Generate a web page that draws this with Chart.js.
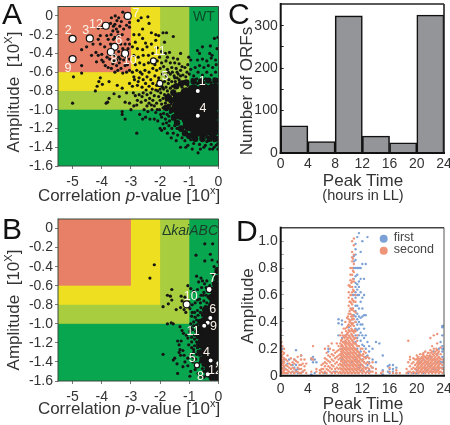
<!DOCTYPE html>
<html>
<head>
<meta charset="utf-8">
<script src="https://cdn.jsdelivr.net/npm/chart.js@4/dist/chart.umd.min.js"></script>
<style>
html, body { margin: 0; padding: 0; background: #fff; overflow: hidden; }
#page { position: relative; width: 450px; height: 425px; overflow: hidden; font-family: "Liberation Sans", Arial, sans-serif; color: #333; }
canvas { position: absolute; }
.txt { position: absolute; white-space: nowrap; line-height: 1; }
.letter { font-size: 30px; color: #111; }
.title { font-size: 17px; transform: translate(-50%, -50%); }
.sub { font-size: 14.5px; transform: translate(-50%, -50%); }
.rot { transform: translate(-50%, -50%) rotate(-90deg); }
sup { font-size: 11px; line-height: 0; }
</style>
</head>
<body>
<div id="page">
  <canvas id="graficoA" width="225" height="190" style="left:0;top:0"></canvas>
  <canvas id="graficoB" width="225" height="195" style="left:0;top:210px"></canvas>
  <canvas id="graficoC" width="240" height="175" style="left:225px;top:0"></canvas>
  <canvas id="graficoD" width="240" height="185" style="left:225px;top:215px"></canvas>

  <div class="txt letter" style="left:2px;top:-1px">A</div>
  <div class="txt letter" style="left:2px;top:214px">B</div>
  <div class="txt letter" style="left:228px;top:-1px">C</div>
  <div class="txt letter" style="left:236px;top:216px">D</div>

  <div class="txt title rot" style="left:13px;top:92px">Amplitude&nbsp; [10<sup>X</sup>]</div>
  <div class="txt title" style="left:129px;top:195px">Correlation <i>p</i>-value [10<sup>x</sup>]</div>
  <div class="txt title rot" style="left:13px;top:310px">Amplitude&nbsp; [10<sup>X</sup>]</div>
  <div class="txt title" style="left:129px;top:408px">Correlation <i>p</i>-value [10<sup>x</sup>]</div>
  <div class="txt" style="left:193px;top:9px;font-size:14px;color:#0c4a2a">WT</div>
  <div class="txt" style="right:232px;top:223px;font-size:14px;color:#1d3d2a">&Delta;<i>kaiABC</i></div>

  <div class="txt title rot" style="left:246px;top:91px">Number of ORFs</div>
  <div class="txt title" style="left:363px;top:180px">Peak Time</div>
  <div class="txt sub" style="left:363px;top:195px">(hours in LL)</div>

  <div class="txt title rot" style="left:247px;top:306px">Amplitude</div>
  <div class="txt title" style="left:363px;top:403px">Peak Time</div>
  <div class="txt sub" style="left:363px;top:417px">(hours in LL)</div>
</div>

<script>
// panel A / B shared ticks
var pValueTicks = [-5, -4, -3, -2, -1, 0];
var amplitudeTicks = [0, -0.2, -0.4, -0.6, -0.8, -1, -1.2, -1.4, -1.6];

// coloured zones, outer to inner
var zoneEndX = [-1, -2, -3];
var zoneStartY = [-1, -0.8, -0.6];
var zoneColors = ["#a8cd3e", "#eee021", "#e88067"];

// panel A, single genes
var pontosA = [
[-3.54,0.0],[-3.28,0.04],[-3.67,-0.02],[-3.2,-0.01],[-3.05,-0.07],[-3.55,-0.09],[-3.7,-0.08],[-3.38,-0.11],[-3.5,-0.14],[-3.62,-0.16],
[-3.05,-0.12],[-3.99,-0.12],[-4.12,-0.13],[-3.44,-0.21],[-3.55,-0.23],[-3.6,-0.25],[-3.83,-0.21],[-3.78,-0.25],[-4.05,-0.21],[-4.12,-0.25],
[-4.3,-0.3],[-4.52,-0.33],[-4.69,-0.36],[-4.2,-0.39],[-4.12,-0.42],[-4.0,-0.41],[-4.35,-0.42],[-4.18,-0.49],[-4.0,-0.47],[-3.73,-0.46],
[-3.49,-0.47],[-3.37,-0.46],[-3.2,-0.53],[-3.05,-0.46],[-3.49,-0.53],[-3.62,-0.51],[-3.95,-0.49],[-3.67,-0.56],[-3.34,-0.56],[-3.45,-0.58],
[-3.05,-0.58],[-4.69,-0.53],[-4.69,-0.61],[-4.97,-0.65],[-5,-0.93],[-3.42,-0.02],[-3.15,-0.1],[-3.3,-0.2],[-3.1,-0.25],[-3.2,-0.3],
[-3.35,-0.3],[-3.42,-0.38],[-3.55,-0.42],[-3.1,-0.35],[-3.25,-0.47],[-3.4,-0.5],[-3.12,-0.52],[-3.75,-0.37],[-3.9,-0.33],[-4.05,-0.3],
[-3.78,-0.55],[-3.15,-0.6],[-3.28,-0.61],[-3.48,-0.05],[-3.6,-0.11],[-3.33,-0.06],[-3.45,-0.17],[-3.25,-0.14],[-3.68,-0.2],[-3.7,-0.3],
[-3.58,-0.48],[-3.3,-0.42],[-3.18,-0.44],[-3.42,-0.44],[-3.28,-0.35],[-3.05,-0.3],[-3.62,-0.37],[-3.82,-0.44],[-3.88,-0.53],[-3.55,-0.6],
[-4.05,-0.66],[-4.1,-0.7],[-4.16,-0.75],[-4.22,-0.8],[-3.98,-0.73],[-3.75,-0.7],[-3.47,-0.74],[-3.3,-0.77],[-3.75,-0.88],[-3.8,-0.92],
[-3.85,-0.93],[-3.3,-1.02],[-3.05,-0.93],[-3.15,-0.82],[-3.05,-0.72],[-2.9,-0.65],[-2.95,-0.75],[-2.85,-0.85],[-2.9,-0.96],[-3.2,-0.92],
[-3.4,-0.86],[-3.58,-0.83],[-3.0,-1.0],[-2.8,-0.95],[-2.7,-1.05],[-2.55,-1.0],[-2.6,-1.1],[-2.8,-1.25],[-3.2,-1.1],[-3.3,-1.05],
[-2.65,-0.02],[-2.42,-0.01],[-2.38,-0.08],[-2.75,-0.05],[-2.9,-0.2],[-2.72,-0.2],[-2.6,-0.24],[-2.85,-0.28],[-2.5,-0.29],[-2.95,-0.33],
[-2.78,-0.35],[-2.6,-0.36],[-2.45,-0.33],[-2.3,-0.3],[-2.15,-0.26],[-2.05,-0.21],[-1.9,-0.18],[-2.9,-0.42],[-2.75,-0.44],[-2.58,-0.42],
[-2.4,-0.42],[-2.25,-0.4],[-2.1,-0.34],[-1.95,-0.38],[-1.82,-0.4],[-1.68,-0.39],[-2.85,-0.52],[-2.7,-0.5],[-2.55,-0.52],[-2.4,-0.5],
[-2.1,-0.48],[-1.95,-0.5],[-1.8,-0.48],[-1.65,-0.5],[-1.5,-0.5],[-1.35,-0.51],[-2.95,-0.6],[-2.8,-0.58],[-2.68,-0.6],[-2.52,-0.58],
[-2.38,-0.6],[-2.25,-0.56],[-2.12,-0.58],[-2.0,-0.56],[-1.88,-0.54],[-1.75,-0.57],[-1.6,-0.55],[-1.45,-0.56],[-1.3,-0.58],[-1.15,-0.55],
[-2.88,-0.68],[-2.72,-0.66],[-2.58,-0.68],[-2.45,-0.65],[-2.32,-0.68],[-2.18,-0.64],[-2.05,-0.66],[-1.92,-0.62],[-1.78,-0.64],[-1.65,-0.62],
[-1.52,-0.64],[-1.38,-0.62],[-1.22,-0.63],[-1.08,-0.6],[-0.95,-0.57],[-2.78,-0.74],[-2.62,-0.76],[-2.5,-0.72],[-2.38,-0.75],[-2.25,-0.72],
[-2.12,-0.74],[-1.95,-0.72],[-1.85,-0.7],[-1.72,-0.72],[-1.6,-0.7],[-1.48,-0.7],[-1.35,-0.68],[-1.2,-0.7],[-2.92,-0.82],[-2.72,-0.84],
[-2.58,-0.82],[-2.45,-0.84],[-2.32,-0.82],[-2.2,-0.85],[-2.08,-0.8],[-1.98,-0.82],[-1.88,-0.78],[-1.75,-0.8],[-1.65,-0.77],[-1.55,-0.8],
[-1.45,-0.76],[-2.65,-0.92],[-2.5,-0.9],[-2.38,-0.93],[-2.25,-0.9],[-2.12,-0.93],[-2.0,-0.9],[-1.9,-0.88],[-1.78,-0.9],[-1.65,-0.86],
[-1.55,-0.9],[-2.42,-1.02],[-2.28,-1.0],[-2.15,-1.03],[-2.02,-1.0],[-1.9,-0.98],[-1.78,-1.0],[-1.68,-0.96],[-1.58,-1.0],[-2.2,-1.1],
[-2.08,-1.12],[-1.95,-1.08],[-1.82,-1.1],[-1.7,-1.07],[-1.58,-1.1],[-1.85,-1.2],[-1.7,-1.17],[-1.6,-1.2],[-1.5,-1.17],[-2.0,-1.2],
[-1.72,-0.84],[-1.82,-0.93],[-1.62,-0.94],[-1.5,-0.85],[-1.45,-0.95],[-1.42,-1.05],[-1.48,-1.12],[-1.42,-1.2],[-1.55,-1.25],[-1.4,-1.27],
[-1.25,-1.3],[-1.3,-1.4],[-1.05,-1.38],[-1.15,-1.33],[-0.95,-1.32],[-0.85,-1.36],[-0.75,-1.32],[-0.65,-1.37],[-0.55,-1.33],[-0.45,-1.38],
[-0.35,-1.33],[-0.25,-1.37],[-0.15,-1.33],[-0.08,-1.38],[-0.7,-1.46],[-0.5,-1.4],[-0.3,-1.42],[-0.15,-1.4],[-0.9,-1.28],[-1.1,-1.27],
[-1.3,-1.22],[-0.6,-1.29],[-0.4,-1.29],[-0.2,-1.29],[-0.05,-1.3],
[-1.0,-0.62],[-0.85,-0.64],[-0.7,-0.6],[-0.55,-0.63],[-0.4,-0.6],[-0.25,-0.63],[-0.1,-0.6],[-0.9,-0.68],[-0.75,-0.67],[-0.6,-0.68],
[-0.45,-0.67],[-0.3,-0.68],[-0.15,-0.67],[-0.05,-0.68],[-0.8,-0.55],[-0.65,-0.53],[-0.5,-0.55],[-0.35,-0.53],[-0.2,-0.55],[-0.08,-0.52],
[-0.72,-0.47],[-0.55,-0.46],[-0.4,-0.48],[-0.25,-0.45],[-0.1,-0.47],[-0.95,-0.47],[-0.65,-0.4],[-0.72,-0.37],[-1.02,-0.44],[-0.3,-0.4],
[-0.22,-0.42],[-0.28,-0.32],[-0.14,-0.24],[-0.02,-0.23],[-0.05,-0.35],[-0.55,-0.33],
[-1.3,-0.4],[-1.55,-0.22],[-1.78,-0.18],[-1.85,-0.28],[-2.15,-0.2],[-2.6,-0.14],[-2.3,-0.18],[-1.5,-0.66],[-2.0,-0.78],[-2.3,-0.95],
[-2.48,-0.79],[-2.36,-0.88],[-2.27,-0.78],[-2.15,-0.79],[-2.2,-0.96],[-2.05,-0.86],[-1.95,-0.94],[-1.85,-0.84],[-1.72,-0.95],[-2.1,-1.0],
[-1.98,-1.05],[-1.88,-1.04],[-1.76,-1.05],[-1.65,-1.03],[-2.05,-0.69],[-1.92,-0.76],[-1.8,-0.76],[-1.7,-0.68],[-1.58,-0.75],[-1.42,-0.66],
[-1.3,-0.64],[-1.12,-0.65],[-1.72,-0.6],[-1.58,-0.6],[-1.42,-0.6],[-1.25,-0.54],[-1.05,-0.52],[-1.55,-0.45],[-1.4,-0.46],[-1.75,-0.44],
[-2.02,-0.44],[-2.18,-0.52],[-2.62,-0.62],[-2.75,-0.7],[-2.62,-0.86],[-2.78,-0.9],[-2.45,-0.96],[-2.5,-1.08],[-2.35,-1.1],[-1.9,-1.15],
[-1.78,-1.14],[-1.68,-1.12],[-1.95,-1.22],[-1.75,-1.25],[-1.62,-1.3],[-1.45,-1.33],[-1.12,-1.4],[-0.9,-1.42],[-0.62,-1.42],[-0.4,-1.34],
[-0.2,-1.42],[-0.02,-1.36],[-0.02,-1.42],[-0.72,-0.72],[-0.5,-0.71],[-0.25,-0.71],[-0.03,-0.74],[-1.05,-0.74],[-1.25,-0.76],[-0.1,-0.72]
];

// panel A, the solid black cloud
var nucleoA = [
[-0.2,-0.79],[-0.5,-0.79],[-0.85,-0.8],[-1.1,-0.83],[-1.35,-0.88],[-0.2,-0.88],[-0.5,-0.88],[-0.8,-0.88],[-1.1,-0.92],[-1.38,-0.97],
[-0.2,-0.96],[-0.5,-0.96],[-0.8,-0.98],[-1.1,-1.0],[-1.3,-1.04],[-0.2,-1.06],[-0.5,-1.06],[-0.8,-1.08],[-1.05,-1.1],[-0.2,-1.16],
[-0.5,-1.16],[-0.8,-1.18],[-1.0,-1.16],[-0.2,-1.22],[-0.5,-1.22],[-0.75,-1.22]
];
// panel A, rim of the cloud
var bordaA = [
[-1.55,-0.82],[-1.62,-0.9],[-1.6,-1.0],[-1.52,-1.08],[-1.42,-1.14],[-1.28,-1.2],[-1.15,-1.25],[-1.0,-1.28],[-0.8,-1.31],[-0.55,-1.31],
[-0.3,-1.31],[-0.1,-1.31],[-1.45,-0.75],[-1.28,-0.72],[-1.1,-0.71],[-0.85,-0.7],[-0.6,-0.7],[-0.35,-0.69],[-0.1,-0.69],[-1.8,-0.98],
[-1.75,-0.87]
];

// panel A, numbered genes
var marcadosAX = [-5.0, -4.41, -3.86, -3.11, -3.56, -3.69, -3.2, -5.0, -2.23, -2.01, -0.71, -0.71];
var marcadosAY = [-0.245, -0.24, -0.105, 0.0, -0.33, -0.385, -0.4, -0.46, -0.48, -0.72, -0.8, -1.065];
var numerosA = ["2", "3", "12", "7", "6", "8", "10", "9", "11", "5", "1", "4"];
var numeroAX = [-5.15, -4.55, -4.2, -2.83, -3.42, -3.58, -3.04, -5.16, -2.03, -1.83, -0.56, -0.53];
var numeroAY = [-0.16, -0.16, -0.095, 0.03, -0.265, -0.465, -0.475, -0.56, -0.38, -0.645, -0.705, -0.985];
var raiosA = [3.5, 3.5, 3.5, 3.5, 3.5, 3.5, 3.5, 3.5, 3, 3, 2.6, 2.6];

// panel B, single genes
var pontosB = [
[-2.2,-0.38],[-2.35,-0.52],[-0.77,-0.28],[-0.47,-0.16],[-0.2,-0.16],[-0.28,-0.27],[-0.22,-0.33],[-0.47,-0.34],[-0.02,-0.35],[-0.05,-0.42],
[-0.02,-0.5],[-0.75,-0.5],[-0.6,-0.52],[-0.55,-0.55],[-0.68,-0.56],[-0.48,-0.58],[-0.4,-0.55],[-0.18,-0.48],[-0.1,-0.56],[-0.15,-0.62],
[-1.05,-0.6],[-0.95,-0.63],[-0.85,-0.66],[-0.72,-0.64],[-0.6,-0.7],[-0.5,-0.67],[-0.42,-0.7],[-0.25,-0.7],[-1.6,-0.64],[-1.75,-0.7],
[-1.65,-0.71],[-1.6,-0.75],[-1.72,-0.79],[-1.9,-0.82],[-1.28,-0.71],[-1.15,-0.72],[-1.25,-0.76],[-1.45,-0.85],[-1.3,-0.83],[-1.18,-0.85],
[-1.12,-0.88],[-1.05,-0.8],[-1.75,-1.0],[-1.62,-0.99],[-1.55,-1.0],[-0.98,-0.84],[-0.9,-0.8],[-0.8,-0.78],[-0.72,-0.75],[-0.62,-0.78],
[-0.5,-0.76],[-0.92,-0.92],[-0.82,-0.88],[-0.72,-0.86],[-0.62,-0.88],[-0.52,-0.85],[-0.95,-1.0],[-0.85,-0.98],[-0.75,-0.96],[-0.65,-0.97],
[-0.55,-0.95],[-0.98,-1.08],[-0.88,-1.06],[-0.78,-1.08],[-0.68,-1.05],[-0.6,-1.07],[-1.05,-1.15],[-0.92,-1.14],[-0.82,-1.16],[-0.72,-1.14],
[-0.62,-1.15],[-1.32,-1.03],[-1.25,-1.07],[-1.2,-1.1],[-1.1,-1.12],[-1.4,-1.18],[-1.35,-1.22],[-1.28,-1.18],[-1.22,-1.28],[-1.32,-1.27],
[-1.02,-1.22],[-0.92,-1.25],[-0.82,-1.23],[-0.72,-1.25],[-0.62,-1.24],[-1.35,-1.3],[-1.3,-1.33],[-1.9,-1.32],[-1.55,-1.38],[-1.5,-1.36],
[-1.42,-1.42],[-1.18,-1.33],[-1.05,-1.36],[-0.95,-1.32],[-0.85,-1.3],[-0.75,-1.32],[-0.65,-1.33],[-1.22,-1.45],[-1.4,-1.52],[-1.05,-1.44],
[-0.95,-1.5],[-0.8,-1.48],[-0.7,-1.52],[-0.62,-1.4],[-0.55,-1.47],[-1.15,-1.4],[-0.88,-1.4],[-0.72,-1.42],[-0.6,-1.55],[-0.5,-1.56],
[-0.98,-1.55],[-0.15,-0.4],[-0.08,-0.46],[-0.3,-0.6],[-0.42,-0.62],[-0.35,-0.72],[-0.58,-0.62],[-0.52,-0.7],
[-0.9,-0.88],[-0.8,-0.93],[-0.7,-0.91],[-0.85,-1.02],[-0.75,-1.01],[-0.95,-1.04],[-0.82,-1.12],[-0.72,-1.1],[-0.92,-1.19],[-0.75,-1.19],
[-0.85,-1.27],[-0.7,-1.29],[-0.6,-1.29],[-0.88,-1.35],[-0.78,-1.37],[-0.5,-1.5],[-0.45,-0.82],[-0.6,-0.83],[-0.65,-0.74],[-0.4,-0.78]
];

// panel B, the solid black strip
var nucleoB = [
[-0.05,-0.66],[-0.1,-0.74],[-0.15,-0.82],[-0.3,-0.88],[-0.12,-0.9],[-0.34,-0.97],[-0.13,-0.98],[-0.38,-1.05],[-0.13,-1.07],[-0.38,-1.13],
[-0.13,-1.17],[-0.38,-1.22],[-0.13,-1.27],[-0.38,-1.3],[-0.13,-1.37],[-0.32,-1.38],[-0.13,-1.47],[-0.26,-1.47],[-0.13,-1.55],[-0.48,-1.1],
[-0.5,-1.2],[-0.46,-1.0]
];
// panel B, rim of the strip
var bordaB = [
[-0.62,-0.98],[-0.66,-1.05],[-0.68,-1.13],[-0.66,-1.22],[-0.62,-1.3],[-0.55,-1.37],[-0.48,-1.42],[-0.42,-0.84],[-0.5,-0.9],[-0.26,-0.72],
[-0.12,-0.58],[-0.05,-0.52],[-0.03,-0.44]
];

// panel B, numbered genes
var marcadosBX = [-1.09, -0.32, -0.28, -0.37, -0.49, -0.27, -0.01, -0.74, -0.37];
var marcadosBY = [-0.795, -0.64, -0.94, -0.99, -1.02, -1.385, -1.415, -1.435, -1.53];
var numerosB = ["10", "7", "6", "9", "11", "4", "12", "5", "8"];
var numeroBX = [-0.95, -0.2, -0.2, -0.17, -0.87, -0.41, -0.12, -0.9, -0.62];
var numeroBY = [-0.71, -0.53, -0.85, -1.03, -1.08, -1.305, -1.495, -1.36, -1.55];
var raiosB = [3.5, 3, 2.6, 2.6, 2.6, 2.6, 2.6, 2.6, 2.6];

// panel C
var horasCentro = [2, 6, 10, 14, 18, 22];
var numeroORFs = [64, 27, 323, 40, 24, 325];
var horaTicks = [0, 4, 8, 12, 16, 20, 24];
var orfTicks = [0, 50, 100, 150, 200, 250, 300];

// panel D, amplitudes listed per time column
var amplitudeTicksD = [0, 0.1, 0.2, 0.3, 0.4, 0.5, 0.6, 0.7, 0.8, 0.9, 1];
var nomesSeries = ["first", "second"];
var primeiraSerie = [
[0,[.03,.08,.13,.18,.22]],[.25,[.05,.1,.2]],[.5,[.06,.12]],[1,[.02,.09]],[1.25,[.12]],[1.75,[.03,.08]],[2,[.02,.06,.12]],[2.25,[.04,.08,.19]],
[2.5,[.02,.05]],[3,[.02,.15]],[3.25,[.03]],[4.5,[.01,.12]],[4.75,[.1,.14]],[5,[.02,.12]],[5.25,[.1]],[6.5,[.02]],[7,[.18,.2]],[7.5,[.02]],
[8,[.03]],[8.5,[.3,.39,.42]],[9,[.12,.2,.28,.38,.41]],[9.5,[.1,.2,.25,.3]],[10,[.05,.16,.36]],[10.5,[.1,.3,.42,.5,.6]],
[10.75,[.33,.45,.6,.72,.8,.85,.89]],[11,[.05,.12,.25,.3,.35,.4,.44,.48,.52,.58,.62,.66,.69,.74,.8,.86,.9,.94,.98]],
[11.25,[.1,.2,.28,.34,.38,.42,.46,.52,.6,.64,.68,.75,.8,1.03]],[11.5,[.06,.15,.22,.3,.35,.4,.44,.5,.6,.66,.7,.8,1.06]],
[11.75,[.08,.18,.26,.32,.38,.43,.55,.62,.72,.8,.92]],[12,[.04,.12,.23,.3,.38,.44,.5,.58,.83,1.0]],[12.25,[.1,.22,.28,.35,.45,.6,.72]],
[12.5,[.06,.14,.2,.3,.45,.83]],[12.75,[.03,.08,.15,.25,1.03]],[13,[.04,.1,.18,.22]],[13.5,[.06,.12,.2]],[14,[.02,.1,.25]],[14.5,[.24]],
[15,[.01,.04,.15]],[15.75,[.03,.07]],[16,[.02,.05,.08]],[16.5,[.03,.05,.08]],[17,[.02,.06]],[18.75,[.02]],[19.5,[.02]],[20,[.02,.04]],
[20.5,[.03,.1]],[21,[.02,.06,.12]],[21.5,[.04,.09]],[22,[.03,.07,.14]],[22.5,[.05,.12,.18]],[23,[.04,.1,.16]],[23.25,[.06,.2]],
[23.5,[.1,.25]],[23.75,[.06,.1,.14,.18,.2,.22,.3,.36,.37]],[24,[.05,.12,.2,.37]]
];
var segundaSerie = [
[0,[.02,.05,.08,.1,.13,.16,.2,.24,.28,.34]],[.12,[.03,.06,.09,.12,.15,.18,.25]],[.25,[.02,.05,.08,.11,.14,.18,.22]],[.38,[.03,.06,.09,.12,.16]],[.5,[.02,.04,.07,.1,.13,.17,.2]],[.75,[.02,.05,.08,.12]],
[1,[.02,.04,.07,.11,.15]],[1.25,[.03,.06,.09]],[1.5,[.02,.05,.08,.13]],[1.75,[.03,.06,.1]],[2,[.02,.05,.09,.12]],[2.25,[.03,.11]],[2.5,[.03,.06,.1,.14]],[2.75,[.02,.05,.08]],[3,[.02,.05,.08,.12,.15]],
[3.25,[.03,.09]],[3.5,[.04,.07,.12]],[3.75,[.02,.09]],[4.5,[.03,.13]],[4.75,[.12,.22]],[5.25,[.03,.05]],[5.75,[.02,.04]],[6,[.03,.05,.08]],[6.25,[.02,.05,.09]],
[6.5,[.03,.07,.1,.13,.2]],[6.75,[.02,.05,.09,.12,.17]],[7,[.04,.07,.11,.15,.22]],[7.25,[.03,.06,.1,.14,.2]],[7.5,[.02,.05,.08,.12,.16,.24]],
[7.75,[.03,.07,.11,.15,.19]],[8,[.02,.05,.09,.13,.17]],[8.25,[.03,.06,.1,.14,.18,.24]],[8.5,[.02,.05,.08,.12,.15,.19,.22]],
[8.75,[.03,.06,.09,.13,.16,.2,.24,.3]],[8.88,[.02,.05,.08,.11,.15,.18,.22,.26]],[9,[.02,.05,.08,.11,.14,.17,.2,.23,.27,.32]],[9.12,[.04,.07,.1,.13,.16,.19,.22,.25,.3]],[9.25,[.03,.06,.09,.12,.15,.18,.21,.25,.29,.35]],
[9.38,[.02,.05,.08,.11,.14,.17,.2,.24,.28]],[9.5,[.02,.05,.08,.11,.14,.17,.2,.23,.26,.3,.35,.4]],[9.62,[.04,.07,.1,.13,.16,.19,.22,.25,.29,.33]],[9.75,[.03,.06,.09,.12,.15,.18,.21,.24,.27,.31,.36,.43]],
[9.88,[.02,.05,.08,.11,.14,.17,.2,.24,.28,.32,.37,.44]],[10,[.02,.05,.08,.11,.14,.17,.2,.23,.26,.3,.34,.38,.42,.46,.52,.58,.62,.67]],
[10.12,[.04,.07,.1,.13,.16,.19,.22,.25,.29,.33,.4,.48,.55,.67]],[10.25,[.03,.06,.09,.12,.15,.18,.21,.24,.28,.33,.37,.41,.46,.5,.55,.6,.66,.71,.75,.8]],
[10.38,[.02,.05,.08,.11,.14,.17,.2,.23,.27,.31,.35,.39,.44,.49,.54,.6,.69]],[10.5,[.02,.05,.08,.11,.14,.17,.2,.23,.26,.3,.34,.38,.42,.45,.49,.53,.57,.62,.66,.7,.75,.8,.85,.88,.92,1.0]],
[10.62,[.04,.07,.1,.13,.16,.19,.22,.25,.29,.33,.39,.44,.5,.56,.64,.72,.78,.87]],[10.75,[.03,.06,.09,.12,.15,.18,.21,.24,.27,.32,.37,.42,.48,.55,.63,.7,.77,.83,.9,.97,1.02]],
[10.88,[.02,.05,.08,.11,.14,.17,.2,.24,.28,.34]],[11,[.02,.05,.08,.11,.14,.17,.2,.24,.28,.33,.4,.47,.55,.6]],[11.12,[.04,.07,.1,.13,.16,.19,.23]],[11.25,[.03,.06,.09,.12,.15,.18,.22,.26,.3]],
[11.38,[.02,.05,.08,.11,.14,.18]],[11.5,[.02,.05,.08,.11,.14,.17,.22]],[11.62,[.04,.07,.1,.13,.16]],[11.75,[.03,.06,.09,.12,.15,.2]],[12,[.02,.05,.08,.11,.15,.2]],[12.12,[.04,.07,.12,.16]],[12.25,[.03,.06,.1,.14,.18]],
[12.5,[.02,.05,.09,.13,.17]],[12.75,[.03,.06,.1,.14]],[13,[.02,.05,.09,.13]],[13.25,[.03,.07]],[13.5,[.03,.06,.1]],[14,[.02,.05]],[14.75,[.02]],[15,[.03]],
[16,[.03,.06]],[16.5,[.02]],[17,[.02,.04]],[17.5,[.02]],[18.5,[.02,.05]],[18.75,[.03,.1,.26]],[19,[.03,.07,.12,.14]],[19.25,[.02,.05,.09]],
[19.5,[.03,.06,.1,.13]],[19.75,[.02,.05,.08,.12]],[20,[.03,.06,.09,.12,.15]],[20.12,[.04,.07,.1,.13]],[20.25,[.02,.05,.08,.11,.14]],[20.38,[.03,.06,.09,.12]],[20.5,[.03,.06,.09,.12,.16]],
[20.62,[.04,.07,.1,.13]],[20.75,[.02,.05,.08,.11,.14]],[20.88,[.03,.06,.09,.13,.16]],[21,[.03,.06,.09,.12,.15,.17]],[21.12,[.04,.07,.1,.14]],[21.25,[.02,.05,.08,.11,.14,.18]],[21.38,[.03,.06,.1,.13]],[21.5,[.03,.06,.09,.12,.15]],
[21.62,[.04,.07,.1,.13,.17]],[21.75,[.02,.05,.08,.11,.14,.17]],[21.88,[.03,.06,.09,.12,.15]],[22,[.03,.06,.09,.12,.15,.19,.28]],[22.12,[.04,.07,.1,.13,.17]],[22.25,[.02,.05,.08,.11,.14,.18,.22]],[22.38,[.03,.06,.09,.12,.16]],[22.5,[.03,.06,.09,.12,.15,.2,.3]],
[22.62,[.04,.07,.1,.13,.17]],[22.75,[.02,.05,.08,.11,.14,.18]],[22.88,[.03,.06,.09,.12,.16,.2]],[23,[.03,.06,.09,.12,.15,.19,.24,.31]],[23.12,[.04,.07,.1,.13,.17]],[23.25,[.02,.05,.08,.11,.14,.18]],[23.38,[.03,.06,.09,.13]],[23.5,[.03,.06,.09,.12,.16,.21]],
[23.75,[.02,.05,.08,.12]],[24,[.03,.06,.1]]
];

function paraPontos(pares) {
    return pares.map(function(p) { return { x: p[0], y: p[1] }; });
}

function colunasParaPontos(colunas) {
    var pontos = [];
    colunas.forEach(function(c) {
        c[1].forEach(function(a) { pontos.push({ x: c[0], y: a }); });
    });
    return pontos;
}

function juntarXY(xs, ys) {
    return xs.map(function(x, i) { return { x: x, y: ys[i] }; });
}

var fonteTick = { family: "'Liberation Sans', Arial, sans-serif", size: 14 };

// draws the zones behind the dots
var pluginZonas = {
    id: "zonas",
    beforeDatasetsDraw: function(chart) {
        if (!chart.options.plugins.zonas.ativo) return;
        var ctx = chart.ctx, a = chart.chartArea, sx = chart.scales.x, sy = chart.scales.y;
        ctx.save();
        ctx.fillStyle = "#09a650";
        ctx.fillRect(a.left, a.top, a.right - a.left, a.bottom - a.top);
        zoneEndX.forEach(function(fim, i) {
            ctx.fillStyle = zoneColors[i];
            ctx.fillRect(a.left, a.top, sx.getPixelForValue(fim) - a.left, sy.getPixelForValue(zoneStartY[i]) - a.top);
        });
        ctx.restore();
    }
};

// numbers next to the marked genes
var pluginNumeros = {
    id: "numeros",
    afterDatasetsDraw: function(chart) {
        var o = chart.options.plugins.numeros;
        if (!o.textos) return;
        var ctx = chart.ctx;
        ctx.save();
        ctx.font = "12.5px 'Liberation Sans', Arial, sans-serif";
        ctx.fillStyle = "#fbf3ea";
        ctx.textAlign = "center";
        ctx.textBaseline = "middle";
        o.textos.forEach(function(t, i) {
            ctx.fillText(t, chart.scales.x.getPixelForValue(o.xs[i]), chart.scales.y.getPixelForValue(o.ys[i]));
        });
        ctx.restore();
    }
};

// frame round the plot, each side can differ
var pluginMoldura = {
    id: "moldura",
    afterDraw: function(chart) {
        var o = chart.options.plugins.moldura, a = chart.chartArea, ctx = chart.ctx;
        function lado(x1, y1, x2, y2, cor, w) {
            ctx.strokeStyle = cor;
            ctx.lineWidth = w;
            ctx.beginPath();
            ctx.moveTo(x1, y1);
            ctx.lineTo(x2, y2);
            ctx.stroke();
        }
        ctx.save();
        lado(a.left, a.top, a.right, a.top, o.topo[0], o.topo[1]);
        lado(a.right, a.top, a.right, a.bottom, o.direita[0], o.direita[1]);
        lado(a.left - o.base[1] / 2, a.bottom, a.right + o.base[1] / 2, a.bottom, o.base[0], o.base[1]);
        lado(a.left, a.top - o.esquerda[1] / 2, a.left, a.bottom + o.esquerda[1] / 2, o.esquerda[0], o.esquerda[1]);
        ctx.restore();
    }
};

// legend of panel D sits inside the plot
var pluginLegendaD = {
    id: "legendaD",
    afterDatasetsDraw: function(chart) {
        if (!chart.options.plugins.legendaD.ativo) return;
        var ctx = chart.ctx, a = chart.chartArea;
        ctx.save();
        ctx.font = "12.5px 'Liberation Sans', Arial, sans-serif";
        ctx.textBaseline = "middle";
        chart.data.datasets.forEach(function(ds, i) {
            var y = a.top + 11 + i * 12;
            ctx.fillStyle = ds.backgroundColor;
            ctx.beginPath();
            ctx.arc(a.left + 103, y, 4, 0, Math.PI * 2);
            ctx.fill();
            ctx.fillStyle = "#444";
            ctx.fillText(ds.label, a.left + 113, y - 1);
        });
        ctx.restore();
    }
};

Chart.register(pluginZonas, pluginNumeros, pluginMoldura, pluginLegendaD);
Chart.defaults.animation = false;
Chart.defaults.responsive = false;
Chart.defaults.font.family = fonteTick.family;

function fixarTicks(valores) {
    return function(escala) {
        escala.ticks = valores.map(function(v) { return { value: v }; });
    };
}

// pins the axis box and drops the margin the library adds for edge labels
function fixarCaixa(largura, altura) {
    return function(e) {
        if (largura) e.width = largura;
        if (altura) e.height = altura;
        e.paddingLeft = e.paddingRight = e.paddingTop = e.paddingBottom = 0;
    };
}

function criarDispersao(id, pontos, nucleo, borda, marcados, raios, textos, xs, ys, alturaX, topo) {
    var ctx = document.getElementById(id).getContext("2d");
    return new Chart(ctx, {
        type: "scatter",
        data: {
            datasets: [
                { label: "marcados", data: marcados, order: 0, pointRadius: raios, backgroundColor: "#fff", borderColor: "#111", borderWidth: 1.2 },
                { label: "genes", data: pontos, order: 1, pointRadius: 1.6, backgroundColor: "#151515", borderWidth: 0 },
                { label: "borda", data: borda, order: 2, pointRadius: 3.2, backgroundColor: "#151515", borderWidth: 0 },
                { label: "nucleo", data: nucleo, order: 3, pointRadius: 6.5, backgroundColor: "#151515", borderWidth: 0 }
            ]
        },
        options: {
            layout: { padding: { top: topo, right: 5, left: 0, bottom: 0 } },
            plugins: {
                legend: { display: false },
                tooltip: { enabled: false },
                zonas: { ativo: true },
                numeros: { textos: textos, xs: xs, ys: ys },
                moldura: { topo: ["#3a4a3e", 1], direita: ["#3a4a3e", 1], base: ["#3a4a3e", 1], esquerda: ["#3a4a3e", 1] }
            },
            scales: {
                x: {
                    type: "linear", min: -5.5, max: 0,
                    afterBuildTicks: fixarTicks(pValueTicks),
                    afterFit: fixarCaixa(0, alturaX),
                    grid: { drawOnChartArea: false, tickLength: 3, color: "#777" },
                    border: { display: false },
                    ticks: { font: fonteTick, color: "#333", maxRotation: 0, padding: 5, autoSkip: false, callback: function(v) { return String(v); } }
                },
                y: {
                    type: "linear", min: -1.6, max: 0.1,
                    afterBuildTicks: fixarTicks(amplitudeTicks),
                    afterFit: fixarCaixa(58, 0),
                    grid: { drawOnChartArea: false, tickLength: 3, color: "#777" },
                    border: { display: false },
                    ticks: { font: fonteTick, color: "#333", padding: 2, autoSkip: false, callback: function(v) { return v === 0 ? "0" : v.toFixed(1); } }
                }
            }
        }
    });
}

document.addEventListener("DOMContentLoaded", function() {
    criarDispersao("graficoA", paraPontos(pontosA), paraPontos(nucleoA), paraPontos(bordaA), juntarXY(marcadosAX, marcadosAY), raiosA, numerosA, numeroAX, numeroAY, 24, 4);
    criarDispersao("graficoB", paraPontos(pontosB), paraPontos(nucleoB), paraPontos(bordaB), juntarXY(marcadosBX, marcadosBY), raiosB, numerosB, numeroBX, numeroBY, 24, 9);

    new Chart(document.getElementById("graficoC").getContext("2d"), {
        type: "bar",
        data: {
            datasets: [{
                label: "Number of ORFs",
                data: juntarXY(horasCentro, numeroORFs),
                backgroundColor: "#939598",
                borderColor: "#111",
                borderWidth: 1.6,
                categoryPercentage: 1,
                barPercentage: 1
            }]
        },
        options: {
            layout: { padding: { top: 4, right: 21, left: 0, bottom: 0 } },
            plugins: {
                legend: { display: false },
                tooltip: { enabled: false },
                zonas: { ativo: false },
                numeros: {},
                moldura: { topo: ["#222", 1.6], direita: ["#222", 1.6], base: ["#111", 2], esquerda: ["#111", 2] }
            },
            scales: {
                x: {
                    type: "linear", min: 0, max: 24, offset: false,
                    afterBuildTicks: fixarTicks(horaTicks),
                    afterFit: fixarCaixa(0, 22),
                    grid: { drawOnChartArea: false, drawTicks: false },
                    border: { display: false },
                    ticks: { font: fonteTick, color: "#333", maxRotation: 0, padding: 3, autoSkip: false, callback: function(v) { return String(v); } }
                },
                y: {
                    type: "linear", min: 0, max: 351,
                    afterBuildTicks: fixarTicks(orfTicks),
                    afterFit: fixarCaixa(55.7, 0),
                    grid: { drawOnChartArea: false, tickLength: -3, color: "#222" },
                    border: { display: false },
                    ticks: { font: fonteTick, color: "#333", padding: 6, autoSkip: false, callback: function(v) { return v % 100 === 0 ? String(v) : ""; } }
                }
            }
        }
    });

    new Chart(document.getElementById("graficoD").getContext("2d"), {
        type: "scatter",
        data: {
            datasets: [
                { label: nomesSeries[0], data: colunasParaPontos(primeiraSerie), order: 1, pointRadius: 1.2, backgroundColor: "#7ba1d6", borderWidth: 0 },
                { label: nomesSeries[1], data: colunasParaPontos(segundaSerie), order: 0, pointRadius: 1.2, backgroundColor: "#ee9478", borderWidth: 0 }
            ]
        },
        options: {
            layout: { padding: { top: 12.7, right: 21, left: 0, bottom: 0 } },
            plugins: {
                legend: { display: false },
                tooltip: { enabled: false },
                zonas: { ativo: false },
                numeros: {},
                legendaD: { ativo: true },
                moldura: { topo: ["#444", 1.6], direita: ["#555", 1], base: ["#111", 2], esquerda: ["#111", 2] }
            },
            scales: {
                x: {
                    type: "linear", min: 0, max: 24,
                    afterBuildTicks: fixarTicks(horaTicks),
                    afterFit: fixarCaixa(0, 24.3),
                    grid: { drawOnChartArea: false, drawTicks: false },
                    border: { display: false },
                    ticks: { font: fonteTick, color: "#333", maxRotation: 0, padding: 5, autoSkip: false, callback: function(v) { return String(v); } }
                },
                y: {
                    type: "linear", min: 0, max: 1.1,
                    afterBuildTicks: fixarTicks(amplitudeTicksD),
                    afterFit: fixarCaixa(55.7, 0),
                    grid: { drawOnChartArea: false, tickLength: -3, color: "#999" },
                    border: { display: false },
                    ticks: { font: fonteTick, color: "#333", padding: 6, autoSkip: false, callback: function(v) { return Math.round(v * 10) % 2 === 0 ? (v === 0 ? "0" : v.toFixed(1)) : ""; } }
                }
            }
        }
    });
});
</script>
</body>
</html>
